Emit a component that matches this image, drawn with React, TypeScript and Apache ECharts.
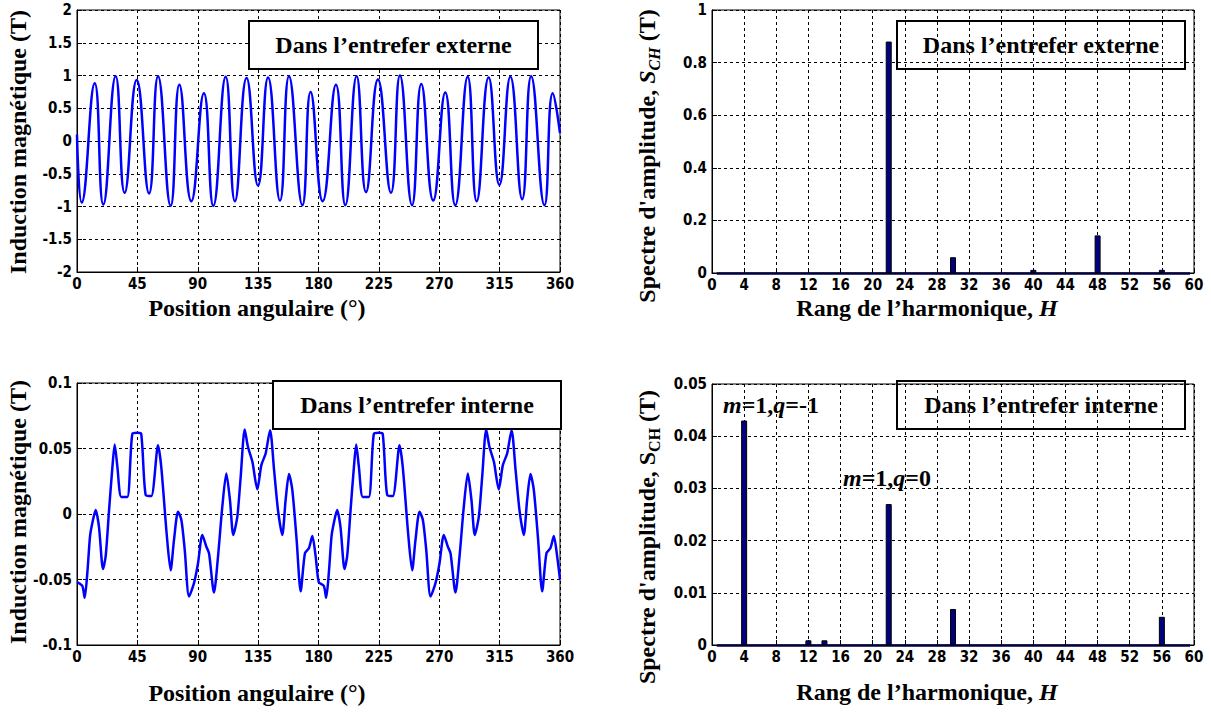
import React, { useEffect, useRef } from "react";
import * as echarts from "echarts";

// ---------- DATA ----------
// Outer air gap flux density (T) vs angular position (deg) - extrema
const extAngle = [0, 3.5, 13.2, 19.6, 28.8, 35.5, 44.5, 53.7, 60.4, 69.8, 76.3, 85.2, 94.6, 101.6, 110.8, 117.7, 126.4, 134.9, 142.4, 151.3, 158.0, 168.0, 174.1, 183.1, 193.0, 200.0, 208.4, 215.4, 224.3, 234.0, 240.7, 249.7, 256.6, 265.5, 274.5, 281.9, 291.2, 297.9, 306.8, 314.8, 323.0, 331.8, 338.5, 348.4, 354.6, 360];
const extB = [0.1, -0.94, 0.88, -0.97, 0.99, -0.79, 0.93, -0.8, 0.99, -0.99, 0.86, -0.92, 0.73, -0.99, 0.98, -0.92, 0.96, -0.68, 0.97, -0.91, 0.99, -0.98, 0.75, -0.92, 0.86, -0.98, 0.99, -0.78, 0.94, -0.79, 1.0, -0.98, 0.87, -0.91, 0.74, -0.98, 0.98, -0.92, 0.97, -0.67, 0.98, -0.89, 0.99, -0.98, 0.73, 0.12];

// Inner air gap flux density (T) vs angular position (deg)
const intAngle = [0, 4.0, 5.7, 7.7, 9.7, 11.4, 13.9, 16.4, 19.4, 21.4, 23.9, 26.4, 28.1, 30.1, 33.0, 37.5, 41.2, 45.0, 47.9, 51.2, 55.4, 60.4, 62.8, 66.8, 69.8, 72.3, 75.3, 77.8, 80.3, 83.5, 87.2, 90.2, 93.4, 96.4, 98.4, 102.1, 105.1, 108.3, 111.3, 114.0, 116.5, 119.5, 122.0, 125.0, 127.4, 130.7, 134.4, 137.4, 140.6, 143.9, 146.9, 149.8, 153.0, 155.5, 158.0, 160.5, 163.7, 166.7, 169.9, 172.9, 175.4, 177.9,
  180.2, 184.0, 185.7, 187.7, 189.7, 191.4, 193.9, 196.4, 199.4, 201.4, 203.9, 206.4, 208.1, 210.1, 213.0, 217.5, 221.2, 225.0, 227.9, 231.2, 235.4, 240.4, 242.8, 246.8, 249.8, 252.3, 255.3, 257.8, 260.3, 263.5, 267.2, 270.2, 273.4, 276.4, 278.4, 282.1, 285.1, 288.3, 291.3, 294.0, 296.5, 299.5, 302.0, 305.0, 307.4, 310.7, 314.4, 317.4, 320.6, 323.9, 326.9, 329.8, 333.0, 335.5, 338.0, 340.5, 343.7, 346.7, 349.9, 352.9, 355.4, 357.9, 360];
const intB = [-0.052, -0.055, -0.064, -0.045, -0.017, -0.007, 0.003, -0.01, -0.042, -0.032, 0.003, 0.036, 0.053, 0.036, 0.013, 0.013, 0.061, 0.062, 0.061, 0.0145, 0.0137, 0.0525, 0.036, -0.0147, -0.043, -0.0198, 0.0018, -0.0046, -0.0274, -0.063, -0.0528, -0.0376, -0.016, -0.0249, -0.03, -0.06, -0.0325, 0.0056, 0.031, 0.0107, -0.016, -0.002, 0.0284, 0.0645, 0.0513, 0.04, 0.0188, 0.0373, 0.0462, 0.064, 0.0335, 0.003, -0.016, 0.0107, 0.0305, 0.0183, -0.0198, -0.059, -0.03, -0.026, -0.0168, -0.0325,
  -0.052, -0.055, -0.064, -0.045, -0.017, -0.007, 0.003, -0.01, -0.042, -0.032, 0.003, 0.036, 0.053, 0.036, 0.013, 0.013, 0.061, 0.062, 0.061, 0.0145, 0.0137, 0.0525, 0.036, -0.0147, -0.043, -0.0198, 0.0018, -0.0046, -0.0274, -0.063, -0.0528, -0.0376, -0.016, -0.0249, -0.03, -0.06, -0.0325, 0.0056, 0.031, 0.0107, -0.016, -0.002, 0.0284, 0.0645, 0.0513, 0.04, 0.0188, 0.0373, 0.0462, 0.064, 0.0335, 0.003, -0.016, 0.0107, 0.0305, 0.0183, -0.0198, -0.059, -0.03, -0.026, -0.0168, -0.0325, -0.05];

// Harmonic spectra
const extHarm = [22, 30, 40, 48, 56];
const extAmp = [0.88, 0.06, 0.012, 0.143, 0.012];
const intHarm = [4, 12, 14, 22, 30, 56];
const intAmp = [0.043, 0.0009, 0.0009, 0.027, 0.0069, 0.0054];

// Axis ranges / ticks
const angleAxis = { min: 0, max: 360, interval: 45 };
const harmAxis = { min: 0, max: 60, interval: 4 };
const extBAxis = { min: -2, max: 2, interval: 0.5 };
const intBAxis = { min: -0.1, max: 0.1, interval: 0.05 };
const extSAxis = { min: 0, max: 1, interval: 0.2 };
const intSAxis = { min: 0, max: 0.05, interval: 0.01 };

// Texts
const xTitleAngle = "Position angulaire (°)";
const yTitleB = "Induction magnétique (T)";
const boxExt = "Dans l’entrefer externe";
const boxInt = "Dans l’entrefer interne";

const zip = (a: number[], b: number[]) => a.map((x, i) => [x, b[i]]);

const SERIF = "'Liberation Serif','Times New Roman',serif";
const NARROW = "'Liberation Sans Narrow','Arial Narrow','DejaVu Sans Condensed',sans-serif";

const fmt = (v: number) => String(Math.round(v * 10000) / 10000);

function xAx(gridIndex: number, r: any) {
  return {
    type: "value", gridIndex, min: r.min, max: r.max, interval: r.interval,
    axisLine: { show: true, onZero: false, lineStyle: { color: "#000", width: 1 } },
    axisTick: { show: true, inside: true, length: 5, lineStyle: { color: "#000" } },
    axisLabel: { fontFamily: NARROW, fontWeight: "bold", fontSize: 15, color: "#000", margin: 4, formatter: fmt },
    splitLine: { show: true, lineStyle: { color: "#000", type: [3, 3], width: 1 } },
  };
}
function yAx(gridIndex: number, r: any) {
  return {
    type: "value", gridIndex, min: r.min, max: r.max, interval: r.interval,
    axisLine: { show: true, onZero: false, lineStyle: { color: "#000", width: 1 } },
    axisTick: { show: true, inside: true, length: 5, lineStyle: { color: "#000" } },
    axisLabel: { fontFamily: NARROW, fontWeight: "bold", fontSize: 15, color: "#000", margin: 5, formatter: fmt },
    splitLine: { show: true, lineStyle: { color: "#000", type: [3, 3], width: 1 } },
  };
}

const titleStyle = (text: string, extra: any = {}) => ({
  text, fill: "#000", font: `bold 24px ${SERIF}`, textAlign: "center", textVerticalAlign: "middle", ...extra,
});

function boxEl(x: number, y: number, w: number, h: number, text: string, fill: string) {
  return {
    type: "group", z: 100, children: [
      { type: "rect", shape: { x, y, width: w, height: h }, style: { fill, stroke: "#000", lineWidth: 2 }, z: 100 },
      { type: "text", x: x + w / 2, y: y + h / 2, style: titleStyle(text), z: 101 },
    ],
  };
}

function spectrumTitle(x: number, y: number, italic: boolean) {
  const st = italic ? "italic" : "normal";
  return {
    type: "text", x, y, rotation: Math.PI / 2, z: 100,
    style: {
      text: "{n|Spectre d'amplitude, }{s|S}{sub|CH}{n| (T)}",
      textAlign: "center", textVerticalAlign: "middle", fill: "#000",
      rich: {
        n: { fontFamily: SERIF, fontWeight: "bold", fontSize: 24, fill: "#000", lineHeight: 30 },
        s: { fontFamily: SERIF, fontWeight: "bold", fontStyle: st, fontSize: 24, fill: "#000", lineHeight: 30 },
        sub: { fontFamily: SERIF, fontWeight: "bold", fontStyle: st, fontSize: 16, fill: "#000", lineHeight: 30, verticalAlign: "bottom", padding: [10, 0, 0, 0] },
      },
    },
  };
}

function harmTitle(x: number, y: number) {
  return {
    type: "text", x, y, z: 100,
    style: {
      text: "{n|Rang de l’harmonique, }{i|H}",
      textAlign: "center", textVerticalAlign: "middle",
      rich: {
        n: { fontFamily: SERIF, fontWeight: "bold", fontSize: 24, fill: "#000" },
        i: { fontFamily: SERIF, fontWeight: "bold", fontStyle: "italic", fontSize: 24, fill: "#000" },
      },
    },
  };
}

function mqLabel(x: number, y: number, qv: string) {
  return {
    type: "text", x, y, z: 100,
    style: {
      text: `{i|m}{n|=1,}{i|q}{n|=${qv}}`,
      textAlign: "left", textVerticalAlign: "middle",
      rich: {
        n: { fontFamily: SERIF, fontWeight: "bold", fontSize: 24, fill: "#000" },
        i: { fontFamily: SERIF, fontWeight: "bold", fontStyle: "italic", fontSize: 24, fill: "#000" },
      },
    },
  };
}

const baseline = (color: string) => ({
  silent: true, symbol: "none", label: { show: false },
  lineStyle: { color, width: 2.5, type: "solid" },
  data: [[{ coord: [0.6, 0] }, { coord: [59.5, 0] }]],
});

export default function App() {
  const ref = useRef<HTMLDivElement>(null);
  useEffect(() => {
    document.body.style.margin = "0";
    const chart = echarts.init(ref.current!, undefined, { renderer: "svg" });
    const gridCommon = { show: true, borderColor: "#000", borderWidth: 1, backgroundColor: "#fff", containLabel: false };
    chart.setOption({
      animation: false,
      backgroundColor: "#fff",
      grid: [
        { ...gridCommon, left: 77, top: 10, width: 483, height: 262 },
        { ...gridCommon, left: 77, top: 383, width: 483, height: 262 },
        { ...gridCommon, left: 712, top: 10, width: 482, height: 263 },
        { ...gridCommon, left: 712, top: 384, width: 482, height: 261 },
      ],
      xAxis: [xAx(0, angleAxis), xAx(1, angleAxis), xAx(2, harmAxis), xAx(3, harmAxis)],
      yAxis: [yAx(0, extBAxis), yAx(1, intBAxis), yAx(2, extSAxis), yAx(3, intSAxis)],
      series: [
        {
          type: "line", xAxisIndex: 0, yAxisIndex: 0, data: zip(extAngle, extB), showSymbol: false, smooth: 0.5,
          lineStyle: { color: "#0000ff", width: 2.5 }, z: 5,
        },
        {
          type: "line", xAxisIndex: 1, yAxisIndex: 1, data: zip(intAngle, intB), showSymbol: false, smooth: 0.25,
          lineStyle: { color: "#0000ff", width: 2.5 }, z: 5,
        },
        {
          type: "bar", xAxisIndex: 2, yAxisIndex: 2, data: zip(extHarm, extAmp), barWidth: 6,
          itemStyle: { color: "#000080", borderColor: "#000", borderWidth: 1 }, markLine: baseline("#000040"), z: 5,
        },
        {
          type: "bar", xAxisIndex: 3, yAxisIndex: 3, data: zip(intHarm, intAmp), barWidth: 6,
          itemStyle: { color: "#000080", borderColor: "#000", borderWidth: 1 }, markLine: baseline("#000040"), z: 5,
        },
      ],
      graphic: [
        boxEl(249, 21, 289, 48, boxExt, "#fff"),
        boxEl(273, 381, 288, 48, boxInt, "#fff"),
        boxEl(897, 21, 288, 48, boxExt, "rgba(0,0,0,0)"),
        boxEl(897, 381, 288, 48, boxInt, "rgba(0,0,0,0)"),
        { type: "text", x: 257, y: 308, z: 100, style: titleStyle(xTitleAngle) },
        { type: "text", x: 257, y: 693, z: 100, style: titleStyle(xTitleAngle) },
        harmTitle(927, 308),
        harmTitle(927, 692),
        { type: "text", x: 18, y: 142, rotation: Math.PI / 2, z: 100, style: titleStyle(yTitleB) },
        { type: "text", x: 18, y: 512, rotation: Math.PI / 2, z: 100, style: titleStyle(yTitleB) },
        spectrumTitle(647, 156, true),
        spectrumTitle(647, 537, false),
        mqLabel(723, 405, "-1"),
        mqLabel(843, 478, "0"),
      ],
    });
    return () => chart.dispose();
  }, []);
  return <div ref={ref} style={{ width: 1211, height: 712 }} />;
}
